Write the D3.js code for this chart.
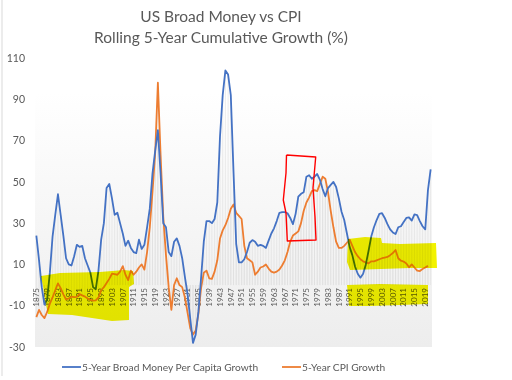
<!DOCTYPE html>
<html><head><meta charset="utf-8">
<script src="https://cdn.jsdelivr.net/npm/d3@7"></script>
<style>
html,body{margin:0;padding:0;background:#fff;}
svg{display:block;font-family:Lato,"Open Sans",sans-serif;}
</style></head>
<body><svg id="c" width="512" height="380"></svg>
<script>
const titleLines = ["US Broad Money vs CPI", "Rolling 5-Year Cumulative Growth (%)"];
const seriesNames = ["5-Year Broad Money Per Capita Growth", "5-Year CPI Growth"];
const years = d3.range(1875, 2022);
const yTicks = [-30, -10, 10, 30, 50, 70, 90, 110];
const tickYears = d3.range(1875, 2020, 4);

// 5-Year Broad Money Per Capita Growth, 1875-2021
const money = [
 24, 12, -1, -9.5, -7, 6, 23.5, 34, 44, 34,
 24, 13, 10, 9.5, 14, 19.5, 18.5, 19, 13, 9.5,
 6, -1, -2, 7, 22, 30, 47, 49, 42, 34,
 35, 30, 25, 19, 21.5, 18, 16, 15.5, 22, 17.5,
 19.5, 28, 37, 54, 65, 75, 54, 30, 28, 16,
 14, 21, 22.6, 19, 13, 4, -4.5, -16.5, -28, -24,
 -13, 3.5, 21, 31, 31, 30, 32, 40, 72, 92,
 104, 102, 92, 55, 20, 11, 11, 12.5, 16, 20.5,
 21.8, 21, 19, 19.5, 19, 18, 21.5, 25, 27.5, 31,
 35, 35.3, 35.3, 34.8, 32.5, 29.5, 34.5, 42.8, 44.2, 45,
 52.5, 53.2, 51.5, 52.5, 53.8, 51, 46.5, 43, 47, 48.5,
 50, 47.5, 42, 35.5, 31.5, 25, 18.5, 14.5, 9, 5.5,
 3.6, 5.5, 10, 16.5, 23.5, 28, 31.5, 34.5, 34.8, 32.5,
 29.5, 27, 25.5, 24.7, 28, 28.5, 30.5, 32.5, 32.8, 31.2,
 34.2, 33.9, 31, 28.5, 27, 46, 56
];
// 5-Year CPI Growth, 1875-2020
const cpi = [
 -15.5, -12, -14.5, -16, -13, -9, -6, -2.5, 0.8, -1.5,
 -4.5, -7, -6.5, -5.6, -5.8, -5.7, -4.3, -5, -5.6, -6.5,
 -7.2, -7.5, -7.4, -6, -2.5, -1, 1, 3, 5.5, 5.3,
 5, 6.5, 9.2, 5, 2.4, 7, 5, 6.5, 8.5, 10,
 7.5, 16, 28, 45, 64, 98, 63, 33, 14.5, -1,
 -12, 0, 3.3, 0, -1, -6, -13.5, -21, -24, -22,
 -14, -1.5, 6, 7, 3.3, 3, 6.5, 12, 22.6, 26.5,
 29, 32.5, 37, 39, 35, 33.5, 32, 19, 13, 12,
 11, 5, 6.5, 8.5, 9, 10, 8, 6.5, 6, 6.5,
 7.5, 9.5, 12, 16, 21, 24, 25, 26, 30, 36,
 40, 42.5, 45.5, 46, 45.5, 49, 52.5, 51.5, 45, 36,
 28, 21, 18, 18, 19, 20.5, 22, 19, 16, 14,
 12.5, 11.5, 11, 10.5, 11.5, 11.5, 12, 12.5, 13, 13.3,
 13.6, 14.5, 15.5, 17, 13, 11.8, 11.4, 10.5, 8.6, 10,
 8.5, 7, 6.8, 7.8, 8.5, 9.3
];

const svg = d3.select("#c");
const plot = {left: 35, right: 432, top: 58, bottom: 347};
const x = d3.scaleBand().domain(years).range([plot.left, plot.right]).padding(0);
const cx = yr => x(yr) + x.bandwidth() / 2;
const y = d3.scaleLinear().domain([-30, 110]).range([plot.bottom, plot.top]);
const grey = "#595959";

// left border of the chart image
svg.append("line").attr("x1", 2).attr("x2", 2).attr("y1", 0).attr("y2", 376)
  .attr("stroke", "#d9d9d9").attr("stroke-width", 1);

// plot area gradient
const defs = svg.append("defs");
const grad = defs.append("linearGradient").attr("id", "bg").attr("x1", 0).attr("x2", 0).attr("y1", 0).attr("y2", 1);
grad.append("stop").attr("offset", "0%").attr("stop-color", "#ffffff");
grad.append("stop").attr("offset", "12%").attr("stop-color", "#ffffff");
grad.append("stop").attr("offset", "100%").attr("stop-color", "#ededed");
svg.append("rect").attr("x", plot.left).attr("y", plot.top)
  .attr("width", plot.right - plot.left).attr("height", plot.bottom - plot.top)
  .attr("fill", "url(#bg)");

// drop lines
const drops = svg.append("g").attr("stroke", "#dedede").attr("stroke-width", 0.6);
[money, cpi].forEach(arr => {
  drops.selectAll(null).data(arr).enter().append("line")
    .attr("x1", (d, i) => cx(years[i])).attr("x2", (d, i) => cx(years[i]))
    .attr("y1", y(0)).attr("y2", d => y(d));
});

// y axis labels
svg.append("g").selectAll("text").data(yTicks).enter().append("text")
  .attr("x", 25).attr("y", d => y(d)).attr("dy", "0.35em")
  .attr("text-anchor", "end").attr("font-size", 10.5).attr("fill", grey)
  .text(d => d);

// x axis labels (rotated)
svg.append("g").selectAll("text").data(tickYears).enter().append("text")
  .attr("transform", d => `translate(${cx(d)},${y(0) + 3}) rotate(-90)`)
  .attr("dy", "0.35em").attr("text-anchor", "end")
  .attr("font-size", 8).attr("fill", grey).text(d => d);

// series lines
const line = d3.line().x((d, i) => cx(years[i])).y(d => y(d));
svg.append("path").datum(cpi).attr("d", line).attr("fill", "none")
  .attr("stroke", "#ed7d31").attr("stroke-width", 1.8).attr("stroke-linejoin", "round");
svg.append("path").datum(money).attr("d", line).attr("fill", "none")
  .attr("stroke", "#4472c4").attr("stroke-width", 1.8).attr("stroke-linejoin", "round");

// title
svg.append("g").selectAll("text").data(titleLines).enter().append("text")
  .attr("x", 221).attr("y", (d, i) => 22 + i * 21)
  .attr("text-anchor", "middle").attr("font-size", 15.5).attr("fill", grey)
  .text(d => d);

// legend
const lg = svg.append("g").attr("font-size", 10.2).attr("fill", grey);
const legendItems = [
  {name: seriesNames[0], color: "#4472c4", x0: 62},
  {name: seriesNames[1], color: "#ed7d31", x0: 282}
];
legendItems.forEach(it => {
  lg.append("line").attr("x1", it.x0).attr("x2", it.x0 + 19).attr("y1", 367).attr("y2", 367)
    .attr("stroke", it.color).attr("stroke-width", 1.8);
  lg.append("text").attr("x", it.x0 + 20).attr("y", 367).attr("dy", "0.35em").text(it.name);
});

// hand-drawn highlighter annotations
const hl = svg.append("g").style("mix-blend-mode", "multiply").attr("fill", "#f2f200");
const yellowShapes = [
  [[41,276],[60,273],[100,272],[124,270],[133,271],[134,284],[129,287],[129,320],[112,321],[92,318],[72,315],[48,314],[45,300],[43,286]],
  [[348,239],[365,237],[381,238],[382,243],[400,244],[436,243],[437,268],[410,268],[381,269],[350,270],[347,262]],
  [[347,285],[380,284],[428,285],[428,304],[400,305],[370,306],[349,306]]
];
yellowShapes.forEach(p => hl.append("path").attr("d", d3.line().curve(d3.curveLinearClosed)(p)));

const redPath = [[286.5,155],[315.7,157],[313,188],[315,217],[316,240],[287.3,241],[286,213],[283.3,200],[284.3,190],[286,173],[286.5,155]];
svg.append("path").attr("d", d3.line()(redPath)).attr("fill", "none")
  .attr("stroke", "#ff0000").attr("stroke-width", 1.4).attr("stroke-linejoin", "round");
</script></body></html>
